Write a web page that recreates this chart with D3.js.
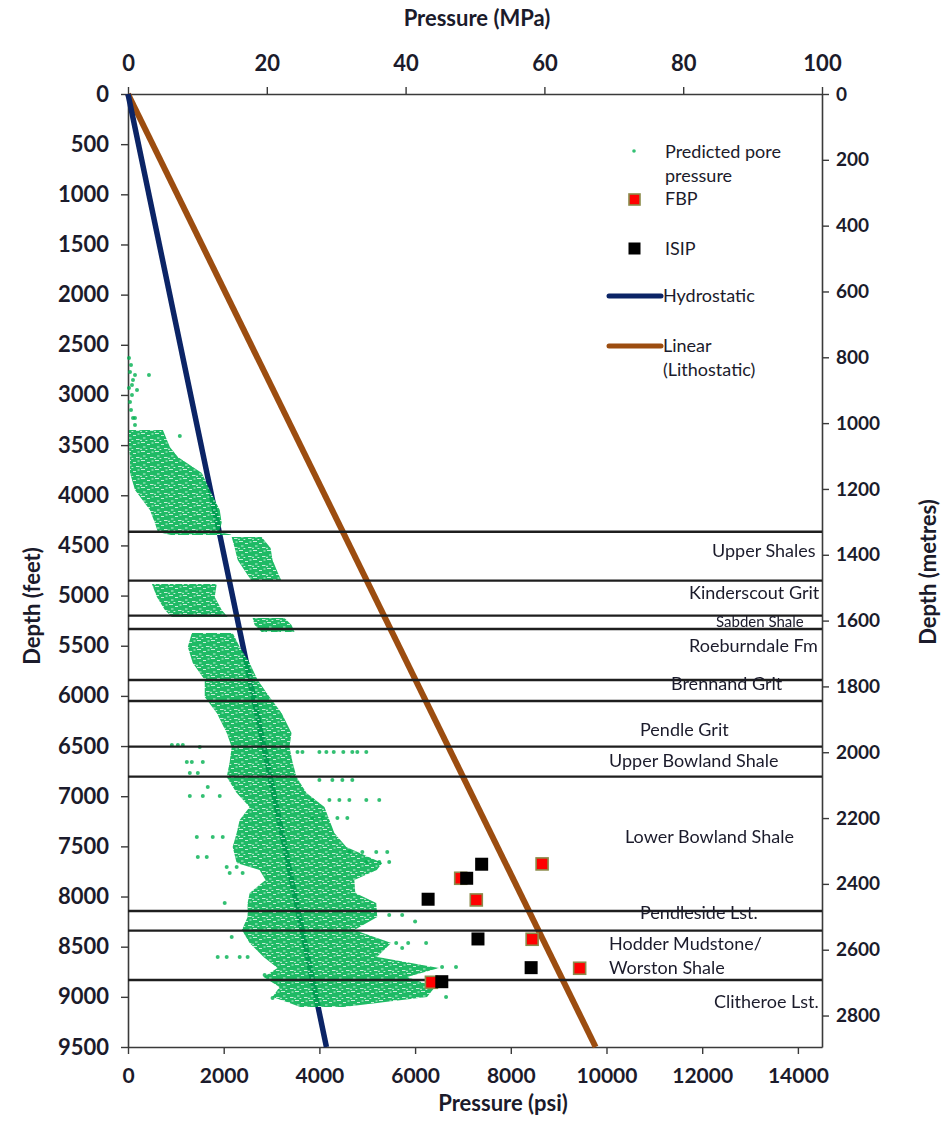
<!DOCTYPE html>
<html>
<head>
<meta charset="utf-8">
<script src="https://cdn.jsdelivr.net/npm/d3@7"></script>
<style>
  html, body { margin: 0; padding: 0; background: #ffffff; }
  svg { display: block; }
</style>
</head>
<body>
<svg id="chart" width="948" height="1124"></svg>
<script>
// ---------- tick values ----------
const psiTicks = [0, 2000, 4000, 6000, 8000, 10000, 12000, 14000];
const mpaTicks = [0, 20, 40, 60, 80, 100];
const feetTicks = [0, 500, 1000, 1500, 2000, 2500, 3000, 3500, 4000, 4500, 5000,
                   5500, 6000, 6500, 7000, 7500, 8000, 8500, 9000, 9500];
const metreTicks = [0, 200, 400, 600, 800, 1000, 1200, 1400, 1600, 1800, 2000,
                    2200, 2400, 2600, 2800];

// ---------- pressure gradients: [depth ft, pressure psi] ----------
const hydrostatic = [[0, 0], [9500, 4147]];
const lithostatic = [[0, 0], [9500, 9773]];

// ---------- test data: [pressure psi, depth ft] ----------
const fbp = [[8654, 7675], [7279, 8034], [6953, 7818], [8446, 8426], [9439, 8715], [6341, 8855]];
const isip = [[7391, 7678], [7078, 7818], [6272, 8027], [7314, 8423], [8425, 8709], [6558, 8849]];

// ---------- formation boundaries (ft) and names ----------
const formationTops = [4363, 4851, 5200, 5333, 5842, 6051, 6506, 6805, 8144, 8340, 8832];
const formationNames = ["Upper Shales", "Kinderscout Grit", "Sabden Shale", "Roeburndale Fm",
  "Brennand Grit", "Pendle Grit", "Upper Bowland Shale", "Lower Bowland Shale",
  "Pendleside Lst.", "Hodder Mudstone/", "Worston Shale", "Clitheroe Lst."];

// ---------- predicted pore pressure envelope: [depth ft, low psi, high psi] ----------
const poreBandShallow = [
  [3349, 21, 729], [3519, 21, 875], [3618, 42, 1042], [3778, 42, 1542],
  [3947, 146, 1709], [4147, 458, 1917], [4276, 563, 1959], [4366, 625, 1900],
  [4396, 900, 2200]
];
const poreBandUpperShales = [
  [4416, 2167, 2792], [4525, 2230, 2980], [4645, 2292, 3021], [4765, 2458, 3125], [4854, 2584, 3209]
];
const poreBandKinderscout = [
  [4884, 500, 1855], [5014, 604, 1813], [5143, 771, 1959], [5213, 917, 2084]
];
const poreBandSabden = [
  [5223, 2604, 3271], [5293, 2646, 3417], [5363, 2792, 3480]
];
const poreBandDeep = [
  [5373, 1334, 2188], [5512, 1250, 2334], [5672, 1354, 2542], [5841, 1604, 2709],
  [6011, 1604, 2959], [6170, 1855, 3209], [6369, 2063, 3417], [6509, 2167, 3375],
  [6659, 2125, 3438], [6808, 2063, 3522], [6968, 2271, 3730], [7107, 2542, 4105],
  [7237, 2334, 4209], [7366, 2271, 4313], [7506, 2188, 4563], [7665, 2271, 5313],
  [7735, 2750, 5200], [7835, 2875, 4730], [7965, 2542, 4751], [8064, 2500, 5188],
  [8204, 2500, 5209], [8333, 2380, 4730], [8463, 2542, 5500], [8602, 2834, 5200],
  [8712, 3125, 6500], [8802, 2834, 5834], [8901, 3167, 6417], [9001, 3021, 6250],
  [9061, 3375, 5209], [9101, 3600, 4500]
];
// scattered pore-pressure values outside the main envelope: [psi, ft]
const poreScatter = [
  [21, 2632], [63, 2701], [42, 2771], [146, 2801], [438, 2801], [104, 2851], [83, 2900],
  [21, 2931], [188, 2950], [83, 3000], [42, 3070], [63, 3150], [104, 3230], [146, 3230],
  [146, 3299], [1083, 3409],
  [917, 6489], [1042, 6489], [1146, 6489], [1500, 6509],
  [3542, 6559], [3646, 6559], [4000, 6559], [4146, 6559], [4300, 6559], [4500, 6559],
  [4688, 6559], [4792, 6559], [4980, 6559],
  [1229, 6659], [1334, 6659], [1563, 6659], [1292, 6768], [1459, 6768],
  [4000, 6838], [4271, 6838], [4480, 6838], [4688, 6838], [1667, 6908],
  [1292, 6998], [1563, 6998], [1917, 6998],
  [3855, 7037], [4209, 7037], [4417, 7037], [4626, 7037], [4980, 7037], [5251, 7037],
  [3855, 7217], [4063, 7217], [4376, 7217], [4584, 7217],
  [1438, 7406], [1771, 7406], [1980, 7406],
  [4626, 7556], [4897, 7556], [5188, 7556], [5418, 7556],
  [1459, 7606], [1646, 7606], [4980, 7655], [5251, 7655], [5459, 7655],
  [2063, 7705], [2271, 7705], [2125, 7765], [2396, 7765], [2021, 8064],
  [5459, 8184], [5730, 8184], [6000, 8250], [2167, 8403],
  [5605, 8463], [5855, 8463], [6230, 8463], [5730, 8513],
  [1875, 8602], [2063, 8602], [2334, 8602], [2500, 8602],
  [6564, 8702], [6855, 8702], [2855, 8782], [6647, 9001], [3021, 9011]
];

// ---------- layout ----------
const plot = { left: 128, right: 822, top: 94, bottom: 1047 };
const FT_TO_M = 0.3048, MPA_TO_PSI = 145.038;
const green = "#00b050", navy = "#0b2466", brown = "#9c4d10";
const font = "Lato, 'Open Sans', 'Liberation Sans', sans-serif";
const textColor = "#1b1b2b";

const svg = d3.select("#chart");

const x = d3.scaleLinear().domain([0, 100 * MPA_TO_PSI]).range([plot.left, plot.right]);
const xMPa = d3.scaleLinear().domain([0, 100]).range([plot.left, plot.right]);
const y = d3.scaleLinear().domain([0, 9500]).range([plot.top, plot.bottom]);
const yM = d3.scaleLinear().domain([0, 9500 * FT_TO_M]).range([plot.top, plot.bottom]);

// speckled texture for the pore-pressure cloud: green fill broken by short white streaks
const defs = svg.append("defs");
const pat = defs.append("pattern").attr("id", "poreDots")
  .attr("patternUnits", "userSpaceOnUse").attr("width", 14).attr("height", 9);
pat.append("rect").attr("width", 14).attr("height", 9).attr("fill", green).attr("opacity", 0.88);
const specks = [[1, 1, 4], [7, 3, 3], [3, 5.5, 2.5], [10, 7, 3.5], [11.5, 1.5, 2], [0, 7.8, 2], [5.5, 8, 1.8]];
specks.forEach(s => pat.append("rect").attr("x", s[0]).attr("y", s[1]).attr("width", s[2])
  .attr("height", 1).attr("fill", "#ffffff").attr("opacity", 0.75));
const blur = defs.append("filter").attr("id", "soft");
blur.append("feGaussianBlur").attr("stdDeviation", 0.7);

// ---------- axes ----------
function styleAxis(g, size) {
  g.select(".domain").attr("stroke", "#3a3a3a").attr("stroke-width", 1.6);
  g.selectAll(".tick line").attr("stroke", "#3a3a3a").attr("stroke-width", 1.4);
  g.selectAll(".tick text").attr("fill", textColor).attr("font-family", font)
    .attr("font-weight", 700).attr("font-size", size);
}

const axLeft = svg.append("g").attr("transform", `translate(${plot.left},0)`)
  .call(d3.axisLeft(y).tickValues(feetTicks).tickSize(7).tickSizeOuter(0).tickPadding(12)
    .tickFormat(d3.format("d")));
styleAxis(axLeft, 22);

const axBottom = svg.append("g").attr("transform", `translate(0,${plot.bottom})`)
  .call(d3.axisBottom(x).tickValues(psiTicks).tickSize(7).tickSizeOuter(0).tickPadding(14)
    .tickFormat(d3.format("d")));
styleAxis(axBottom, 21);

const axTop = svg.append("g").attr("transform", `translate(0,${plot.top})`)
  .call(d3.axisTop(xMPa).tickValues(mpaTicks).tickSize(7).tickSizeOuter(0).tickPadding(16)
    .tickFormat(d3.format("d")));
styleAxis(axTop, 22);

const axRight = svg.append("g").attr("transform", `translate(${plot.right},0)`)
  .call(d3.axisRight(yM).tickValues(metreTicks).tickSize(7).tickSizeOuter(0).tickPadding(7)
    .tickFormat(d3.format("d")));
styleAxis(axRight, 19);

// axis titles
const titleStyle = s => s.attr("fill", textColor).attr("font-family", font)
  .attr("font-weight", 700).attr("font-size", 22).attr("text-anchor", "middle");
svg.append("text").attr("x", 477).attr("y", 26).text("Pressure (MPa)").call(titleStyle);
svg.append("text").attr("x", 503).attr("y", 1111).text("Pressure (psi)").call(titleStyle);
svg.append("text").attr("transform", "translate(40,606) rotate(-90)").text("Depth (feet)").call(titleStyle);
svg.append("text").attr("transform", "translate(936,572) rotate(-90)").text("Depth (metres)").call(titleStyle);

// ---------- plot contents ----------
const content = svg.append("g");

// gradient lines
const gradLine = d3.line().x(d => x(d[1])).y(d => y(d[0]));
content.append("path").datum(lithostatic).attr("d", gradLine)
  .attr("fill", "none").attr("stroke", brown).attr("stroke-width", 6);
content.append("path").datum(hydrostatic).attr("d", gradLine)
  .attr("fill", "none").attr("stroke", navy).attr("stroke-width", 5.5);

// pore pressure cloud
const band = d3.area().y(d => y(d[0])).x0(d => x(d[1])).x1(d => x(d[2])).curve(d3.curveLinear);
const cloud = content.append("g").attr("filter", "url(#soft)");
[poreBandShallow, poreBandUpperShales, poreBandKinderscout, poreBandSabden, poreBandDeep]
  .forEach(b => cloud.append("path").datum(b).attr("d", band).attr("fill", "url(#poreDots)"));
cloud.selectAll("circle.scatter").data(poreScatter).join("circle").attr("class", "scatter")
  .attr("cx", d => x(d[0])).attr("cy", d => y(d[1])).attr("r", 2)
  .attr("fill", green).attr("opacity", 0.8);

// formation boundaries
content.selectAll("line.fm").data(formationTops).join("line").attr("class", "fm")
  .attr("x1", plot.left).attr("x2", plot.right)
  .attr("y1", d => y(d)).attr("y2", d => y(d))
  .attr("stroke", "#1e1e1e").attr("stroke-width", 2.4);

// formation labels
const labelPos = [[712, 551], [689, 593], [716, 622], [689, 646], [671, 684], [640, 730],
  [609, 761], [625, 837], [640, 913], [609, 944], [609, 968], [714, 1002]];
content.selectAll("text.fm").data(formationNames).join("text").attr("class", "fm")
  .attr("x", (d, i) => labelPos[i][0]).attr("y", (d, i) => labelPos[i][1])
  .attr("dy", "0.35em").attr("font-family", font)
  .attr("font-size", (d, i) => i === 2 ? 15 : 18).attr("fill", textColor).text(d => d);

// FBP and ISIP markers
content.selectAll("rect.fbp").data(fbp).join("rect").attr("class", "fbp")
  .attr("x", d => x(d[0]) - 6).attr("y", d => y(d[1]) - 6).attr("width", 12).attr("height", 12)
  .attr("fill", "#ff0000").attr("stroke", "#8b8b4a").attr("stroke-width", 1.6);
content.selectAll("rect.isip").data(isip).join("rect").attr("class", "isip")
  .attr("x", d => x(d[0]) - 6.5).attr("y", d => y(d[1]) - 6.5).attr("width", 13).attr("height", 13)
  .attr("fill", "#000000");

// ---------- legend ----------
const lg = svg.append("g").attr("font-family", font).attr("font-size", 18).attr("fill", textColor);
lg.append("circle").attr("cx", 634).attr("cy", 151).attr("r", 1.8).attr("fill", green).attr("opacity", 0.8);
lg.append("text").attr("x", 665).attr("y", 152).attr("dy", "0.35em").text("Predicted pore");
lg.append("text").attr("x", 665).attr("y", 176).attr("dy", "0.35em").text("pressure");
lg.append("rect").attr("x", 629).attr("y", 194).attr("width", 11).attr("height", 11)
  .attr("fill", "#ff0000").attr("stroke", "#8b8b4a").attr("stroke-width", 1.6);
lg.append("text").attr("x", 665).attr("y", 199).attr("dy", "0.35em").text("FBP");
lg.append("rect").attr("x", 628.5).attr("y", 242.5).attr("width", 12).attr("height", 12).attr("fill", "#000");
lg.append("text").attr("x", 665).attr("y", 249).attr("dy", "0.35em").text("ISIP");
lg.append("line").attr("x1", 609).attr("x2", 661).attr("y1", 296).attr("y2", 296)
  .attr("stroke", navy).attr("stroke-width", 5).attr("stroke-linecap", "round");
lg.append("text").attr("x", 663).attr("y", 296).attr("dy", "0.35em").text("Hydrostatic");
lg.append("line").attr("x1", 609).attr("x2", 661).attr("y1", 346).attr("y2", 346)
  .attr("stroke", brown).attr("stroke-width", 5).attr("stroke-linecap", "round");
lg.append("text").attr("x", 663).attr("y", 346).attr("dy", "0.35em").text("Linear");
lg.append("text").attr("x", 663).attr("y", 370).attr("dy", "0.35em").text("(Lithostatic)");
</script>
</body>
</html>
